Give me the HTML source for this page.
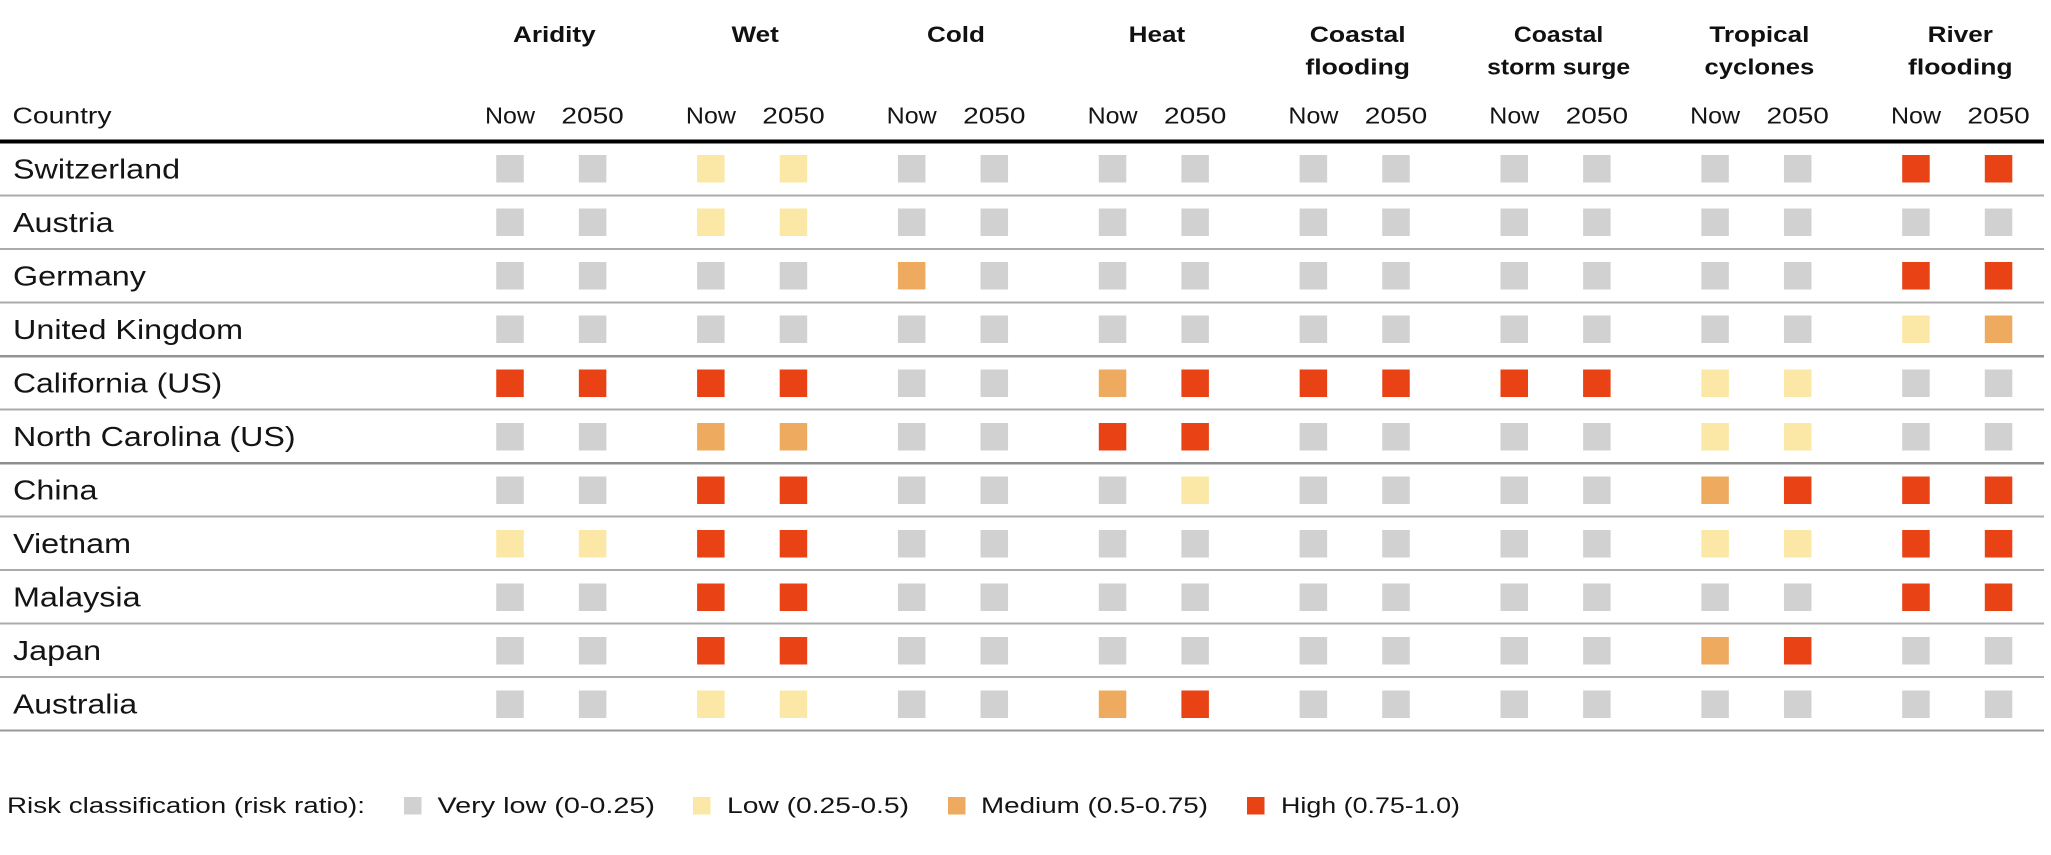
<!DOCTYPE html>
<html>
<head>
<meta charset="utf-8">
<style>
  html, body { margin: 0; padding: 0; background: #ffffff; }
  svg { display: block; }
  text { font-family: "Liberation Sans", Arial, sans-serif; fill: #141414; }
  .t { font-weight: bold; font-size: 22.5px; fill: #111; }
  .h { font-size: 23.5px; }
  .c { font-size: 28px; }
  .l { font-size: 22px; }
  .G { fill: #d1d1d1; }
  .Y { fill: #fbe8a6; }
  .O { fill: #eeab5f; }
  .R { fill: #e84215; }
</style>
</head>
<body>
<svg width="2051" height="855" viewBox="0 0 2051 855" xmlns="http://www.w3.org/2000/svg">
  <rect x="0" y="0" width="2051" height="855" fill="#ffffff"/>

  <!-- Group titles -->
  <g class="titles">
    <text class="t" transform="translate(554.3,42) scale(1.16,1)" text-anchor="middle">Aridity</text>
    <text class="t" transform="translate(755.2,42) scale(1.16,1)" text-anchor="middle">Wet</text>
    <text class="t" transform="translate(956,42) scale(1.16,1)" text-anchor="middle">Cold</text>
    <text class="t" transform="translate(1156.9,42) scale(1.16,1)" text-anchor="middle">Heat</text>
    <text class="t" transform="translate(1357.7,42) scale(1.18,1)" text-anchor="middle">Coastal</text>
    <text class="t" transform="translate(1357.7,74.5) scale(1.18,1)" text-anchor="middle">flooding</text>
    <text class="t" transform="translate(1558.6,42) scale(1.1,1)" text-anchor="middle">Coastal</text>
    <text class="t" transform="translate(1558.6,74.5) scale(1.1,1)" text-anchor="middle">storm surge</text>
    <text class="t" transform="translate(1759.4,42) scale(1.16,1)" text-anchor="middle">Tropical</text>
    <text class="t" transform="translate(1759.4,74.5) scale(1.14,1)" text-anchor="middle">cyclones</text>
    <text class="t" transform="translate(1960.3,42) scale(1.16,1)" text-anchor="middle">River</text>
    <text class="t" transform="translate(1960.3,74.5) scale(1.18,1)" text-anchor="middle">flooding</text>
  </g>

  <!-- Sub headers -->
  <text class="h" x="12.5" y="123.5" textLength="99" lengthAdjust="spacingAndGlyphs">Country</text>
  <g class="sub">
    <text class="h" x="485" y="123.5" textLength="50" lengthAdjust="spacingAndGlyphs">Now</text>
    <text class="h" x="561.4" y="123.5" textLength="62.4" lengthAdjust="spacingAndGlyphs">2050</text>
    <text class="h" x="685.9" y="123.5" textLength="50" lengthAdjust="spacingAndGlyphs">Now</text>
    <text class="h" x="762.3" y="123.5" textLength="62.4" lengthAdjust="spacingAndGlyphs">2050</text>
    <text class="h" x="886.7" y="123.5" textLength="50" lengthAdjust="spacingAndGlyphs">Now</text>
    <text class="h" x="963.1" y="123.5" textLength="62.4" lengthAdjust="spacingAndGlyphs">2050</text>
    <text class="h" x="1087.6" y="123.5" textLength="50" lengthAdjust="spacingAndGlyphs">Now</text>
    <text class="h" x="1164" y="123.5" textLength="62.4" lengthAdjust="spacingAndGlyphs">2050</text>
    <text class="h" x="1288.4" y="123.5" textLength="50" lengthAdjust="spacingAndGlyphs">Now</text>
    <text class="h" x="1364.8" y="123.5" textLength="62.4" lengthAdjust="spacingAndGlyphs">2050</text>
    <text class="h" x="1489.3" y="123.5" textLength="50" lengthAdjust="spacingAndGlyphs">Now</text>
    <text class="h" x="1565.7" y="123.5" textLength="62.4" lengthAdjust="spacingAndGlyphs">2050</text>
    <text class="h" x="1690.1" y="123.5" textLength="50" lengthAdjust="spacingAndGlyphs">Now</text>
    <text class="h" x="1766.5" y="123.5" textLength="62.4" lengthAdjust="spacingAndGlyphs">2050</text>
    <text class="h" x="1891" y="123.5" textLength="50" lengthAdjust="spacingAndGlyphs">Now</text>
    <text class="h" x="1967.4" y="123.5" textLength="62.4" lengthAdjust="spacingAndGlyphs">2050</text>
  </g>

  <!-- Header rule -->
  <rect x="0" y="139.5" width="2044" height="4" fill="#000"/>

  <!-- Row separators -->
  <rect x="0" y="194.5" width="2044" height="2" fill="#ababab"/>
  <rect x="0" y="248" width="2044" height="2" fill="#ababab"/>
  <rect x="0" y="301.5" width="2044" height="2" fill="#ababab"/>
  <rect x="0" y="355" width="2044" height="2.5" fill="#939393"/>
  <rect x="0" y="408.5" width="2044" height="2" fill="#ababab"/>
  <rect x="0" y="462" width="2044" height="2.5" fill="#8e8e8e"/>
  <rect x="0" y="515.5" width="2044" height="2" fill="#ababab"/>
  <rect x="0" y="569" width="2044" height="2" fill="#ababab"/>
  <rect x="0" y="622.5" width="2044" height="2" fill="#ababab"/>
  <rect x="0" y="676" width="2044" height="2" fill="#ababab"/>
  <rect x="0" y="729.5" width="2044" height="2" fill="#999999"/>

  <!-- Country names -->
  <text class="c" transform="translate(13,178.5) scale(1.155,1)">Switzerland</text>
  <text class="c" transform="translate(13,232) scale(1.155,1)">Austria</text>
  <text class="c" transform="translate(13,285.5) scale(1.155,1)">Germany</text>
  <text class="c" transform="translate(13,339) scale(1.155,1)">United Kingdom</text>
  <text class="c" transform="translate(13,392.5) scale(1.14,1)">California (US)</text>
  <text class="c" transform="translate(13,446) scale(1.15,1)">North Carolina (US)</text>
  <text class="c" transform="translate(13,499.5) scale(1.155,1)">China</text>
  <text class="c" transform="translate(13,553) scale(1.155,1)">Vietnam</text>
  <text class="c" transform="translate(13,606.5) scale(1.155,1)">Malaysia</text>
  <text class="c" transform="translate(13,660) scale(1.155,1)">Japan</text>
  <text class="c" transform="translate(13,713.5) scale(1.14,1)">Australia</text>

  <!-- Row 0 Switzerland -->
  <g transform="translate(0,155)">
    <rect class="G" x="496.25" width="27.5" height="27.5"/>
    <rect class="G" x="578.85" width="27.5" height="27.5"/>
    <rect class="Y" x="697.1" width="27.5" height="27.5"/>
    <rect class="Y" x="779.7" width="27.5" height="27.5"/>
    <rect class="G" x="897.95" width="27.5" height="27.5"/>
    <rect class="G" x="980.55" width="27.5" height="27.5"/>
    <rect class="G" x="1098.8" width="27.5" height="27.5"/>
    <rect class="G" x="1181.4" width="27.5" height="27.5"/>
    <rect class="G" x="1299.65" width="27.5" height="27.5"/>
    <rect class="G" x="1382.25" width="27.5" height="27.5"/>
    <rect class="G" x="1500.5" width="27.5" height="27.5"/>
    <rect class="G" x="1583.1" width="27.5" height="27.5"/>
    <rect class="G" x="1701.35" width="27.5" height="27.5"/>
    <rect class="G" x="1783.95" width="27.5" height="27.5"/>
    <rect class="R" x="1902.2" width="27.5" height="27.5"/>
    <rect class="R" x="1984.8" width="27.5" height="27.5"/>
  </g>
  <!-- Row 1 Austria -->
  <g transform="translate(0,208.5)">
    <rect class="G" x="496.25" width="27.5" height="27.5"/>
    <rect class="G" x="578.85" width="27.5" height="27.5"/>
    <rect class="Y" x="697.1" width="27.5" height="27.5"/>
    <rect class="Y" x="779.7" width="27.5" height="27.5"/>
    <rect class="G" x="897.95" width="27.5" height="27.5"/>
    <rect class="G" x="980.55" width="27.5" height="27.5"/>
    <rect class="G" x="1098.8" width="27.5" height="27.5"/>
    <rect class="G" x="1181.4" width="27.5" height="27.5"/>
    <rect class="G" x="1299.65" width="27.5" height="27.5"/>
    <rect class="G" x="1382.25" width="27.5" height="27.5"/>
    <rect class="G" x="1500.5" width="27.5" height="27.5"/>
    <rect class="G" x="1583.1" width="27.5" height="27.5"/>
    <rect class="G" x="1701.35" width="27.5" height="27.5"/>
    <rect class="G" x="1783.95" width="27.5" height="27.5"/>
    <rect class="G" x="1902.2" width="27.5" height="27.5"/>
    <rect class="G" x="1984.8" width="27.5" height="27.5"/>
  </g>
  <!-- Row 2 Germany -->
  <g transform="translate(0,262)">
    <rect class="G" x="496.25" width="27.5" height="27.5"/>
    <rect class="G" x="578.85" width="27.5" height="27.5"/>
    <rect class="G" x="697.1" width="27.5" height="27.5"/>
    <rect class="G" x="779.7" width="27.5" height="27.5"/>
    <rect class="O" x="897.95" width="27.5" height="27.5"/>
    <rect class="G" x="980.55" width="27.5" height="27.5"/>
    <rect class="G" x="1098.8" width="27.5" height="27.5"/>
    <rect class="G" x="1181.4" width="27.5" height="27.5"/>
    <rect class="G" x="1299.65" width="27.5" height="27.5"/>
    <rect class="G" x="1382.25" width="27.5" height="27.5"/>
    <rect class="G" x="1500.5" width="27.5" height="27.5"/>
    <rect class="G" x="1583.1" width="27.5" height="27.5"/>
    <rect class="G" x="1701.35" width="27.5" height="27.5"/>
    <rect class="G" x="1783.95" width="27.5" height="27.5"/>
    <rect class="R" x="1902.2" width="27.5" height="27.5"/>
    <rect class="R" x="1984.8" width="27.5" height="27.5"/>
  </g>
  <!-- Row 3 United Kingdom -->
  <g transform="translate(0,315.5)">
    <rect class="G" x="496.25" width="27.5" height="27.5"/>
    <rect class="G" x="578.85" width="27.5" height="27.5"/>
    <rect class="G" x="697.1" width="27.5" height="27.5"/>
    <rect class="G" x="779.7" width="27.5" height="27.5"/>
    <rect class="G" x="897.95" width="27.5" height="27.5"/>
    <rect class="G" x="980.55" width="27.5" height="27.5"/>
    <rect class="G" x="1098.8" width="27.5" height="27.5"/>
    <rect class="G" x="1181.4" width="27.5" height="27.5"/>
    <rect class="G" x="1299.65" width="27.5" height="27.5"/>
    <rect class="G" x="1382.25" width="27.5" height="27.5"/>
    <rect class="G" x="1500.5" width="27.5" height="27.5"/>
    <rect class="G" x="1583.1" width="27.5" height="27.5"/>
    <rect class="G" x="1701.35" width="27.5" height="27.5"/>
    <rect class="G" x="1783.95" width="27.5" height="27.5"/>
    <rect class="Y" x="1902.2" width="27.5" height="27.5"/>
    <rect class="O" x="1984.8" width="27.5" height="27.5"/>
  </g>
  <!-- Row 4 California -->
  <g transform="translate(0,369.5)">
    <rect class="R" x="496.25" width="27.5" height="27.5"/>
    <rect class="R" x="578.85" width="27.5" height="27.5"/>
    <rect class="R" x="697.1" width="27.5" height="27.5"/>
    <rect class="R" x="779.7" width="27.5" height="27.5"/>
    <rect class="G" x="897.95" width="27.5" height="27.5"/>
    <rect class="G" x="980.55" width="27.5" height="27.5"/>
    <rect class="O" x="1098.8" width="27.5" height="27.5"/>
    <rect class="R" x="1181.4" width="27.5" height="27.5"/>
    <rect class="R" x="1299.65" width="27.5" height="27.5"/>
    <rect class="R" x="1382.25" width="27.5" height="27.5"/>
    <rect class="R" x="1500.5" width="27.5" height="27.5"/>
    <rect class="R" x="1583.1" width="27.5" height="27.5"/>
    <rect class="Y" x="1701.35" width="27.5" height="27.5"/>
    <rect class="Y" x="1783.95" width="27.5" height="27.5"/>
    <rect class="G" x="1902.2" width="27.5" height="27.5"/>
    <rect class="G" x="1984.8" width="27.5" height="27.5"/>
  </g>
  <!-- Row 5 North Carolina -->
  <g transform="translate(0,423)">
    <rect class="G" x="496.25" width="27.5" height="27.5"/>
    <rect class="G" x="578.85" width="27.5" height="27.5"/>
    <rect class="O" x="697.1" width="27.5" height="27.5"/>
    <rect class="O" x="779.7" width="27.5" height="27.5"/>
    <rect class="G" x="897.95" width="27.5" height="27.5"/>
    <rect class="G" x="980.55" width="27.5" height="27.5"/>
    <rect class="R" x="1098.8" width="27.5" height="27.5"/>
    <rect class="R" x="1181.4" width="27.5" height="27.5"/>
    <rect class="G" x="1299.65" width="27.5" height="27.5"/>
    <rect class="G" x="1382.25" width="27.5" height="27.5"/>
    <rect class="G" x="1500.5" width="27.5" height="27.5"/>
    <rect class="G" x="1583.1" width="27.5" height="27.5"/>
    <rect class="Y" x="1701.35" width="27.5" height="27.5"/>
    <rect class="Y" x="1783.95" width="27.5" height="27.5"/>
    <rect class="G" x="1902.2" width="27.5" height="27.5"/>
    <rect class="G" x="1984.8" width="27.5" height="27.5"/>
  </g>
  <!-- Row 6 China -->
  <g transform="translate(0,476.5)">
    <rect class="G" x="496.25" width="27.5" height="27.5"/>
    <rect class="G" x="578.85" width="27.5" height="27.5"/>
    <rect class="R" x="697.1" width="27.5" height="27.5"/>
    <rect class="R" x="779.7" width="27.5" height="27.5"/>
    <rect class="G" x="897.95" width="27.5" height="27.5"/>
    <rect class="G" x="980.55" width="27.5" height="27.5"/>
    <rect class="G" x="1098.8" width="27.5" height="27.5"/>
    <rect class="Y" x="1181.4" width="27.5" height="27.5"/>
    <rect class="G" x="1299.65" width="27.5" height="27.5"/>
    <rect class="G" x="1382.25" width="27.5" height="27.5"/>
    <rect class="G" x="1500.5" width="27.5" height="27.5"/>
    <rect class="G" x="1583.1" width="27.5" height="27.5"/>
    <rect class="O" x="1701.35" width="27.5" height="27.5"/>
    <rect class="R" x="1783.95" width="27.5" height="27.5"/>
    <rect class="R" x="1902.2" width="27.5" height="27.5"/>
    <rect class="R" x="1984.8" width="27.5" height="27.5"/>
  </g>
  <!-- Row 7 Vietnam -->
  <g transform="translate(0,530)">
    <rect class="Y" x="496.25" width="27.5" height="27.5"/>
    <rect class="Y" x="578.85" width="27.5" height="27.5"/>
    <rect class="R" x="697.1" width="27.5" height="27.5"/>
    <rect class="R" x="779.7" width="27.5" height="27.5"/>
    <rect class="G" x="897.95" width="27.5" height="27.5"/>
    <rect class="G" x="980.55" width="27.5" height="27.5"/>
    <rect class="G" x="1098.8" width="27.5" height="27.5"/>
    <rect class="G" x="1181.4" width="27.5" height="27.5"/>
    <rect class="G" x="1299.65" width="27.5" height="27.5"/>
    <rect class="G" x="1382.25" width="27.5" height="27.5"/>
    <rect class="G" x="1500.5" width="27.5" height="27.5"/>
    <rect class="G" x="1583.1" width="27.5" height="27.5"/>
    <rect class="Y" x="1701.35" width="27.5" height="27.5"/>
    <rect class="Y" x="1783.95" width="27.5" height="27.5"/>
    <rect class="R" x="1902.2" width="27.5" height="27.5"/>
    <rect class="R" x="1984.8" width="27.5" height="27.5"/>
  </g>
  <!-- Row 8 Malaysia -->
  <g transform="translate(0,583.5)">
    <rect class="G" x="496.25" width="27.5" height="27.5"/>
    <rect class="G" x="578.85" width="27.5" height="27.5"/>
    <rect class="R" x="697.1" width="27.5" height="27.5"/>
    <rect class="R" x="779.7" width="27.5" height="27.5"/>
    <rect class="G" x="897.95" width="27.5" height="27.5"/>
    <rect class="G" x="980.55" width="27.5" height="27.5"/>
    <rect class="G" x="1098.8" width="27.5" height="27.5"/>
    <rect class="G" x="1181.4" width="27.5" height="27.5"/>
    <rect class="G" x="1299.65" width="27.5" height="27.5"/>
    <rect class="G" x="1382.25" width="27.5" height="27.5"/>
    <rect class="G" x="1500.5" width="27.5" height="27.5"/>
    <rect class="G" x="1583.1" width="27.5" height="27.5"/>
    <rect class="G" x="1701.35" width="27.5" height="27.5"/>
    <rect class="G" x="1783.95" width="27.5" height="27.5"/>
    <rect class="R" x="1902.2" width="27.5" height="27.5"/>
    <rect class="R" x="1984.8" width="27.5" height="27.5"/>
  </g>
  <!-- Row 9 Japan -->
  <g transform="translate(0,637)">
    <rect class="G" x="496.25" width="27.5" height="27.5"/>
    <rect class="G" x="578.85" width="27.5" height="27.5"/>
    <rect class="R" x="697.1" width="27.5" height="27.5"/>
    <rect class="R" x="779.7" width="27.5" height="27.5"/>
    <rect class="G" x="897.95" width="27.5" height="27.5"/>
    <rect class="G" x="980.55" width="27.5" height="27.5"/>
    <rect class="G" x="1098.8" width="27.5" height="27.5"/>
    <rect class="G" x="1181.4" width="27.5" height="27.5"/>
    <rect class="G" x="1299.65" width="27.5" height="27.5"/>
    <rect class="G" x="1382.25" width="27.5" height="27.5"/>
    <rect class="G" x="1500.5" width="27.5" height="27.5"/>
    <rect class="G" x="1583.1" width="27.5" height="27.5"/>
    <rect class="O" x="1701.35" width="27.5" height="27.5"/>
    <rect class="R" x="1783.95" width="27.5" height="27.5"/>
    <rect class="G" x="1902.2" width="27.5" height="27.5"/>
    <rect class="G" x="1984.8" width="27.5" height="27.5"/>
  </g>
  <!-- Row 10 Australia -->
  <g transform="translate(0,690.5)">
    <rect class="G" x="496.25" width="27.5" height="27.5"/>
    <rect class="G" x="578.85" width="27.5" height="27.5"/>
    <rect class="Y" x="697.1" width="27.5" height="27.5"/>
    <rect class="Y" x="779.7" width="27.5" height="27.5"/>
    <rect class="G" x="897.95" width="27.5" height="27.5"/>
    <rect class="G" x="980.55" width="27.5" height="27.5"/>
    <rect class="O" x="1098.8" width="27.5" height="27.5"/>
    <rect class="R" x="1181.4" width="27.5" height="27.5"/>
    <rect class="G" x="1299.65" width="27.5" height="27.5"/>
    <rect class="G" x="1382.25" width="27.5" height="27.5"/>
    <rect class="G" x="1500.5" width="27.5" height="27.5"/>
    <rect class="G" x="1583.1" width="27.5" height="27.5"/>
    <rect class="G" x="1701.35" width="27.5" height="27.5"/>
    <rect class="G" x="1783.95" width="27.5" height="27.5"/>
    <rect class="G" x="1902.2" width="27.5" height="27.5"/>
    <rect class="G" x="1984.8" width="27.5" height="27.5"/>
  </g>

  <!-- Legend -->
  <text class="l" x="7" y="813" textLength="358" lengthAdjust="spacingAndGlyphs">Risk classification (risk ratio):</text>
  <rect class="G" x="404" y="797" width="17.5" height="17.5"/>
  <text class="l" x="437.5" y="813" textLength="217.5" lengthAdjust="spacingAndGlyphs">Very low (0-0.25)</text>
  <rect class="Y" x="693" y="797" width="17.5" height="17.5"/>
  <text class="l" x="727" y="813" textLength="182" lengthAdjust="spacingAndGlyphs">Low (0.25-0.5)</text>
  <rect class="O" x="948" y="797" width="17.5" height="17.5"/>
  <text class="l" x="981" y="813" textLength="227" lengthAdjust="spacingAndGlyphs">Medium (0.5-0.75)</text>
  <rect class="R" x="1247" y="797" width="17.5" height="17.5"/>
  <text class="l" x="1281" y="813" textLength="179" lengthAdjust="spacingAndGlyphs">High (0.75-1.0)</text>
</svg>
</body>
</html>
